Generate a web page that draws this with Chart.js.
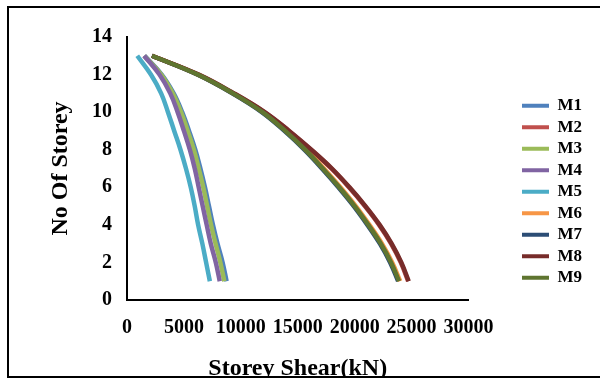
<!DOCTYPE html>
<html>
<head>
<meta charset="utf-8">
<script src="https://cdn.jsdelivr.net/npm/chart.js@4/dist/chart.umd.min.js"></script>
<style>
  html, body { margin: 0; padding: 0; background: #fff; }
</style>
</head>
<body>
<canvas id="shearChart" width="600" height="378"></canvas>
<script>
// storey number (y) and storey shear in kN (x) for each model
var storeys = [1, 2, 3, 4, 5, 6, 7, 8, 9, 10, 11, 12, 13];
var seriesNames = ['M1', 'M2', 'M3', 'M4', 'M5', 'M6', 'M7', 'M8', 'M9'];
var m1 = [8750, 8400, 7950, 7550, 7200, 6850, 6450, 6000, 5450, 4850, 4100, 3050, 1550];
var m2 = [24700, 24050, 23200, 22150, 20900, 19500, 17950, 16150, 14200, 12050, 9350, 6250, 2200];
var m3 = [8550, 8200, 7780, 7380, 7040, 6700, 6300, 5870, 5330, 4750, 4020, 3000, 1520];
var m4 = [8150, 7800, 7360, 7000, 6650, 6300, 5950, 5520, 5000, 4450, 3800, 2850, 1500];
var m5 = [7280, 6950, 6620, 6250, 5950, 5600, 5180, 4700, 4150, 3600, 3000, 2100, 900];
var m6 = [24000, 23300, 22400, 21300, 20100, 18750, 17300, 15750, 13950, 11950, 9300, 6200, 2200];
var m7 = [23820, 23120, 22220, 21120, 19920, 18570, 17120, 15580, 13830, 11840, 9250, 6170, 2180];
var m8 = [24750, 24100, 23250, 22200, 20950, 19550, 18000, 16200, 14250, 12100, 9400, 6300, 2200];
var m9 = [23900, 23200, 22300, 21200, 20000, 18650, 17200, 15650, 13900, 11900, 9300, 6200, 2200];
var xTicks = [0, 5000, 10000, 15000, 20000, 25000, 30000];
var yTicks = [0, 2, 4, 6, 8, 10, 12, 14];

var allSeries = [m1, m2, m3, m4, m5, m6, m7, m8, m9];
var colors = ['#4F81BD', '#C0504D', '#9BBB59', '#8064A2', '#4BACC6', '#F79646', '#2C4D75', '#772C2A', '#5F7530'];

var datasets = allSeries.map(function (vals, i) {
    return {
        label: seriesNames[i],
        data: vals.map(function (v, j) { return { x: v, y: storeys[j] }; }),
        borderColor: colors[i],
        backgroundColor: colors[i],
        borderWidth: 4.5,
        pointRadius: 0,
        showLine: true,
        tension: 0.4,
        order: 9 - i   // last series drawn on top, like Excel
    };
});

var serif = '"Liberation Serif", "Times New Roman", serif';

// outer frame of the picture
var framePlugin = {
    id: 'frame',
    beforeDraw: function (chart) {
        var c = chart.ctx;
        c.save();
        c.fillStyle = '#fff';
        c.fillRect(0, 0, chart.width, chart.height);
        c.restore();
    },
    afterDraw: function (chart) {
        var c = chart.ctx;
        c.save();
        c.strokeStyle = '#000';
        c.lineWidth = 2;
        c.beginPath();
        c.moveTo(600, 7);
        c.lineTo(8, 7);
        c.lineTo(8, 377);
        c.lineTo(600, 377);
        c.stroke();
        c.restore();
    }
};

// move legend block where Excel put it
var legendPlace = {
    id: 'legendPlace',
    afterLayout: function (chart) {
        var lg = chart.legend;
        var w = lg.width, h = lg.height;
        lg.left = 517.5;
        lg.right = lg.left + w;
        lg.top = 92.7;
        lg.bottom = lg.top + h;
    }
};

var ctx = document.getElementById('shearChart').getContext('2d');
var shearChart = new Chart(ctx, {
    type: 'scatter',
    data: { datasets: datasets },
    plugins: [framePlugin, legendPlace],
    options: {
        responsive: false,
        animation: false,
        layout: { padding: { left: 0, right: 57, top: 37, bottom: 0 } },
        plugins: {
            tooltip: { enabled: false },
            legend: {
                position: 'right',
                align: 'start',
                labels: {
                    boxWidth: 27,
                    boxHeight: 4,
                    padding: 4.5,
                    color: '#000',
                    font: { family: serif, size: 17, weight: 'bold' },
                    sort: function (a, b) { return a.datasetIndex - b.datasetIndex; },
                    generateLabels: function (chart) {
                        var items = Chart.defaults.plugins.legend.labels.generateLabels(chart);
                        items.forEach(function (it) { it.lineWidth = 0; it.fillStyle = it.strokeStyle; });
                        return items;
                    }
                }
            }
        },
        scales: {
            x: {
                type: 'linear',
                min: 0,
                max: 30000,
                afterBuildTicks: function (s) { s.ticks = xTicks.map(function (v) { return { value: v }; }); },
                afterFit: function (s) { s.height = 78; },
                grid: { display: false, drawTicks: false },
                border: { display: true, color: '#000', width: 2 },
                ticks: {
                    autoSkip: false,
                    maxRotation: 0,
                    minRotation: 0,
                    padding: 16,
                    color: '#000',
                    font: { family: serif, size: 20, weight: 'bold' },
                    callback: function (v) { return String(v); }
                },
                title: {
                    display: true,
                    text: 'Storey Shear(kN)',
                    color: '#000',
                    font: { family: serif, size: 24, weight: 'bold', lineHeight: 1 },
                    padding: { top: 0, bottom: -3 }
                }
            },
            y: {
                type: 'linear',
                min: 0,
                max: 14,
                afterBuildTicks: function (s) { s.ticks = yTicks.map(function (v) { return { value: v }; }); },
                afterFit: function (s) { s.width = 127; },
                grid: { display: false, drawTicks: false },
                border: { display: true, color: '#000', width: 2 },
                ticks: {
                    padding: 15,
                    color: '#000',
                    font: { family: serif, size: 20, weight: 'bold' },
                    callback: function (v) { return String(v); }
                },
                title: {
                    display: true,
                    text: 'No Of Storey',
                    color: '#000',
                    font: { family: serif, size: 24, weight: 'bold', lineHeight: 1 },
                    padding: { top: 49, bottom: 0 }
                }
            }
        }
    }
});
</script>
</body>
</html>
